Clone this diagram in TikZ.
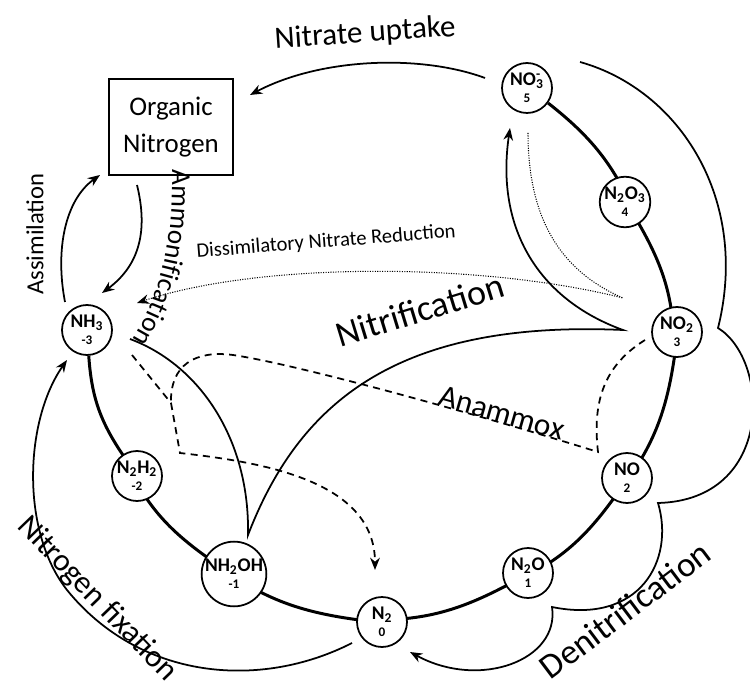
\documentclass[tikz,border=0pt]{standalone}
\usepackage{fontspec}
\setmainfont{Carlito}
\usetikzlibrary{arrows.meta, calc, decorations.text, backgrounds}

\tikzset{
  species/.style={circle, draw, fill=white, line width=1pt, minimum size=1cm,
    inner sep=0pt, align=center, font=\bfseries\fontsize{11}{10.5}\selectfont},
  ringline/.style={line width=1.7pt},
  flow/.style={line width=1pt},
  arr/.style={flow, -{Stealth[length=7pt, width=5.5pt]}},
  anx/.style={flow, dash pattern=on 4pt off 3pt},
  dnr/.style={line width=0.6pt, dash pattern=on 0.6pt off 0.8pt},
}
\newcommand{\oxn}[1]{\\[-1pt]{\fontsize{7.5}{7.5}\selectfont #1}}

\begin{document}
\begin{tikzpicture}[x=0.02cm, y=0.02cm]
  \useasboundingbox (0,0) rectangle (750,690);

  % --- Species on the oxidation ring ---
  \node[species] (nh3)   at (87,360)  {NH\textsubscript{3}\oxn{-3}};
  \node[species] (n2h2)  at (137,214) {N\textsubscript{2}H\textsubscript{2}\oxn{-2}};
  \node[species] (nh2oh) at (234,116) {NH\textsubscript{2}OH\oxn{-1}};
  \node[species] (n2)    at (382,68)  {N\textsubscript{2}\oxn{0}};
  \node[species] (n2o)   at (528,117) {N\textsubscript{2}O\oxn{1}};
  \node[species] (no)    at (627,212) {NO\oxn{2}};
  \node[species] (no2)   at (677,358) {NO\textsubscript{2}\oxn{3}};
  \node[species] (n2o3)  at (625,488) {N\textsubscript{2}O\textsubscript{3}\oxn{4}};
  \node[species] (no3)   at (527,602) {NO\rlap{\textsuperscript{-}}\textsubscript{3}\oxn{5}};
  \begin{scope}[on background layer]
    \draw[ringline] (nh3) to[bend right=15] (n2h2) to[bend right=15] (nh2oh)
      to[bend right=15] (n2) to[bend right=15] (n2o) to[bend right=15] (no)
      to[bend right=15] (no2) to[bend right=15] (n2o3) to[bend right=15] (no3);
  \end{scope}

  % Organic pool
  \node[draw, line width=1pt, minimum width=2.48cm, minimum height=1.92cm, align=center,
    font=\fontsize{15.3}{21}\selectfont] (orgn) at (171,563) {Organic\\Nitrogen};

  % --- Nitrate uptake ---
  \draw[arr] ($(no3)+(-42,10)$) .. controls (420,636) and (320,632) .. ($(orgn)+(79,32)$);
  \node[font=\fontsize{17.7}{20}\selectfont, rotate=4] (lupt) at (365,656) {Nitrate uptake};

  % --- Assimilation / ammonification ---
  \draw[arr] ($(nh3)+(-22,28)$) .. controls (55,440) and (65,490) .. ($(orgn)+(-71,-48)$);
  \node[font=\fontsize{14}{16}\selectfont, rotate=90] (lass) at (35,456) {Assimilation};
  \draw[arr] ($(orgn)+(-34,-58)$) .. controls (148,460) and (140,425) .. ($(nh3)+(15,37)$);
  \path[decorate, decoration={text along path, text align=left,
    text={|\fontsize{15.5}{15.5}\selectfont|Ammonification}}]
    ($(orgn)+(1,-43)$) .. controls (173,455) and (166,395) .. (120,330);

  % --- Dissimilatory nitrate reduction ---
  \draw[dnr, -{Stealth[length=7pt, width=5.5pt]}] ($(no3)+(1,-45)$) .. controls (528,460) and (570,415) .. (623,392)
    .. controls (480,428) and (260,428) .. ($(nh3)+(50,27)$);
  \node[font=\fontsize{11.7}{14}\selectfont, rotate=4.5] (ldnr) at (326,448) {Dissimilatory Nitrate Reduction};

  % --- Nitrification ---
  \draw[arr] ($(nh3)+(43,-9)$) .. controls (200,325) and (250,250) .. ($(nh2oh)+(14,39)$)
    .. controls (300,290) and (400,370) .. ($(no2)+(-54,2)$)
    .. controls (540,390) and (495,460) .. ($(no3)+(-17,-40)$);
  \node[font=\fontsize{20.5}{24}\selectfont, rotate=17] (lnit) at (420,380) {Nitrification};

  % --- Anammox ---
  \coordinate (amx) at (171,287);
  \draw[anx] ($(no2)+(-32,-8)$) .. controls (605,325) and (592,290) .. (598,238)
    .. controls (480,275) and (300,325) .. (233,335) .. controls (195,340) and (170,325) .. (amx);
  \draw[anx] ($(nh3)+(45,-25)$) -- (amx);
  \draw[anx, -{Stealth[length=7pt, width=5.5pt]}] (amx) -- (180,237)
    .. controls (260,228) and (375,210) .. ($(n2)+(-7,52)$);
  \node[font=\fontsize{17.8}{20}\selectfont, rotate=-16] (lanx) at (502,277) {Anammox};

  % --- Denitrification ---
  \draw[arr] ($(no3)+(53,26)$) .. controls (680,600) and (750,490) .. (718,362)
    .. controls (770,330) and (775,190) .. (658,187)
    .. controls (675,130) and (640,65) .. (552,83)
    .. controls (560,30) and (480,0) .. ($(n2)+(28,-30)$);
  \node[font=\fontsize{20}{24}\selectfont, rotate=37] (lden) at (625,80) {Denitrification};

  % --- Nitrogen fixation ---
  \draw[arr] ($(n2)+(-30,-21)$) .. controls (260,0) and (140,10) .. (67,100)
    .. controls (20,160) and (25,270) .. ($(nh3)+(-20,-30)$);
  \node[font=\fontsize{18}{22}\selectfont, rotate=-46] (lfix) at (97,91) {Nitrogen fixation};
\end{tikzpicture}
\end{document}
